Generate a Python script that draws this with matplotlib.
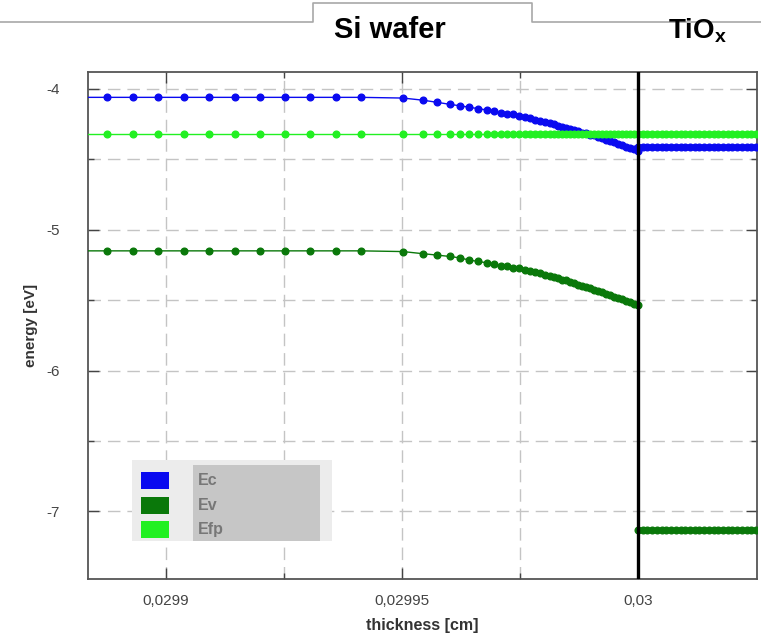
import matplotlib
matplotlib.use('Agg')
import matplotlib.pyplot as plt
from matplotlib.lines import Line2D
from matplotlib.patches import Rectangle
import numpy as np

plt.rcParams['font.family'] = ['Liberation Sans', 'DejaVu Sans']
plt.rcParams['mathtext.default'] = 'regular'

# ---- data ----
# Si side: flat part (first point lies just left of the visible range)
x_si_flat = [0.029882, 0.0298875, 0.0298930, 0.0298983, 0.0299038, 0.0299091,
             0.0299146, 0.0299199, 0.0299252, 0.0299305, 0.0299360, 0.0299413]
ec_si_flat = [-4.06, -4.06, -4.06, -4.06, -4.06, -4.06,
              -4.06, -4.06, -4.06, -4.06, -4.06, -4.06]
ev_si_flat = [-5.15, -5.15, -5.15, -5.15, -5.15, -5.15,
              -5.15, -5.15, -5.15, -5.15, -5.15, -5.15]

# Si side: band bending towards the interface (mesh gets denser)
x_si_bend = [0.0299502, 0.0299544, 0.0299574, 0.0299602, 0.0299623, 0.0299642,
             0.0299661, 0.0299680, 0.0299695, 0.0299710, 0.0299722, 0.0299735,
             0.0299748, 0.0299761, 0.0299771, 0.0299782, 0.0299792, 0.0299803,
             0.0299814, 0.0299822, 0.0299831, 0.0299839, 0.0299847, 0.0299856,
             0.0299864, 0.0299873, 0.0299881, 0.0299890, 0.0299898, 0.0299907,
             0.0299915, 0.0299924, 0.0299932, 0.0299941, 0.0299949, 0.0299958,
             0.0299966, 0.0299975, 0.0299983, 0.0299992, 0.0300000]
ec_si_bend = [-4.065, -4.08, -4.095, -4.11, -4.12, -4.13,
              -4.14, -4.15, -4.16, -4.17, -4.175, -4.18,
              -4.19, -4.20, -4.21, -4.22, -4.225, -4.235,
              -4.245, -4.25, -4.26, -4.27, -4.275, -4.285,
              -4.29, -4.30, -4.31, -4.315, -4.325, -4.33,
              -4.34, -4.35, -4.36, -4.37, -4.38, -4.39,
              -4.40, -4.41, -4.42, -4.43, -4.44]
ev_si_bend = [-5.155, -5.17, -5.18, -5.19, -5.20, -5.215,
              -5.225, -5.235, -5.245, -5.255, -5.26, -5.27,
              -5.275, -5.285, -5.295, -5.30, -5.31, -5.32,
              -5.33, -5.335, -5.345, -5.355, -5.36, -5.37,
              -5.38, -5.39, -5.40, -5.405, -5.415, -5.425,
              -5.435, -5.445, -5.455, -5.465, -5.475, -5.485,
              -5.495, -5.505, -5.515, -5.525, -5.535]

# TiOx side
x_tio = [0.030000, 0.030001, 0.030002, 0.030003, 0.030004, 0.030005, 0.030006,
         0.030007, 0.030008, 0.030009, 0.030010, 0.030011, 0.030012, 0.030013,
         0.030014, 0.030015, 0.030016, 0.030017, 0.030018, 0.030019, 0.030020,
         0.030021, 0.030022, 0.030023, 0.030024, 0.030025, 0.030026]
ec_tio_level = -4.41
ev_tio_level = -7.13
efp_level = -4.32

xticks = [0.0299, 0.02995, 0.03]
xticklabels = ['0,0299', '0,02995', '0,03']
yticks = [-4, -5, -6, -7]
yticklabels = ['-4', '-5', '-6', '-7']

# ---- build series ----
x_all = np.array(x_si_flat + x_si_bend + x_tio)
ec_all = np.array(ec_si_flat + ec_si_bend + [ec_tio_level] * len(x_tio))
ev_all = np.array(ev_si_flat + ev_si_bend + [ev_tio_level] * len(x_tio))
efp_all = np.full(len(x_all), efp_level)

c_ec = '#0a0af0'
c_ev = '#0a780a'
c_efp = '#22f022'

fig = plt.figure(figsize=(7.61, 6.35), dpi=100)
ax = fig.add_axes([88 / 761, 1 - 579 / 635, 669 / 761, 507 / 635])

ax.plot(x_all, ec_all, color=c_ec, lw=1.0, marker='o', ms=4.8, zorder=3)
ax.plot(x_all, ev_all, color=c_ev, lw=1.0, marker='o', ms=4.8, zorder=3)
ax.plot(x_all, efp_all, color=c_efp, lw=1.0, marker='o', ms=4.8, zorder=4)

ax.axvline(0.03, color='black', lw=2.4, zorder=5)

ax.set_xlim(0.0298835, 0.0300252)
ax.set_ylim(-7.48, -3.88)

ax.set_xticks(xticks)
ax.set_xticklabels(xticklabels)
ax.set_xticks([0.029925, 0.029975], minor=True)
ax.set_yticks(yticks)
ax.set_yticklabels(yticklabels)
ax.set_yticks([-4.5, -5.5, -6.5], minor=True)

ax.tick_params(which='both', direction='in', top=True, right=True,
               color='#444444', labelcolor='#444444', labelsize=11)
ax.tick_params(which='major', length=8, width=1.0, pad=11)
ax.tick_params(which='minor', length=4, width=1.0)
ax.tick_params(axis='y', which='major', pad=20)

ax.grid(which='both', color='#c4c4c4', lw=1.0, ls=(0, (9, 5)), zorder=0)
for s in ax.spines.values():
    s.set_color('#555555')
    s.set_linewidth(1.3)

ax.set_xlabel('thickness [cm]', fontsize=11.5, fontweight='bold', color='#333333', labelpad=7)
ax.set_ylabel('energy [eV]', fontsize=11, fontweight='bold', color='#333333', labelpad=6)

# legend box drawn by hand
ax.add_patch(Rectangle((0.0658, 0.075), 0.299, 0.16, transform=ax.transAxes,
                       facecolor='#ececec', edgecolor='none', zorder=6))
ax.add_patch(Rectangle((0.157, 0.075), 0.19, 0.15, transform=ax.transAxes,
                       facecolor='#c6c6c6', edgecolor='none', zorder=7))
legend_names = ['Ec', 'Ev', 'Efp']
legend_colors = [c_ec, c_ev, c_efp]
legend_y = [0.1775, 0.1282, 0.0809]
for name, col, y0 in zip(legend_names, legend_colors, legend_y):
    ax.add_patch(Rectangle((0.0792, y0), 0.0419, 0.0335, transform=ax.transAxes,
                           facecolor=col, edgecolor='none', zorder=8))
    ax.text(0.1644, y0 + 0.0175, name, transform=ax.transAxes, fontsize=11.5,
            fontweight='bold', color='#777777', va='center', ha='left', zorder=9)

# header with the tab over the Si wafer part
hx = [0, 313, 313, 532, 532, 761]
hy = [22, 22, 3, 3, 22, 22]
fig.add_artist(Line2D([v / 761 for v in hx], [1 - v / 635 for v in hy],
                      color='#a8a8a8', lw=1.2))
fig.text(390 / 761, 1 - 30 / 635, 'Si wafer', fontsize=21, fontweight='bold',
         ha='center', va='center')
fig.text(698 / 761, 1 - 31 / 635, r'TiO$_{\mathregular{x}}$', fontsize=20,
         fontweight='bold', ha='center', va='center')

fig.savefig('out.png', dpi=100, facecolor='white')
